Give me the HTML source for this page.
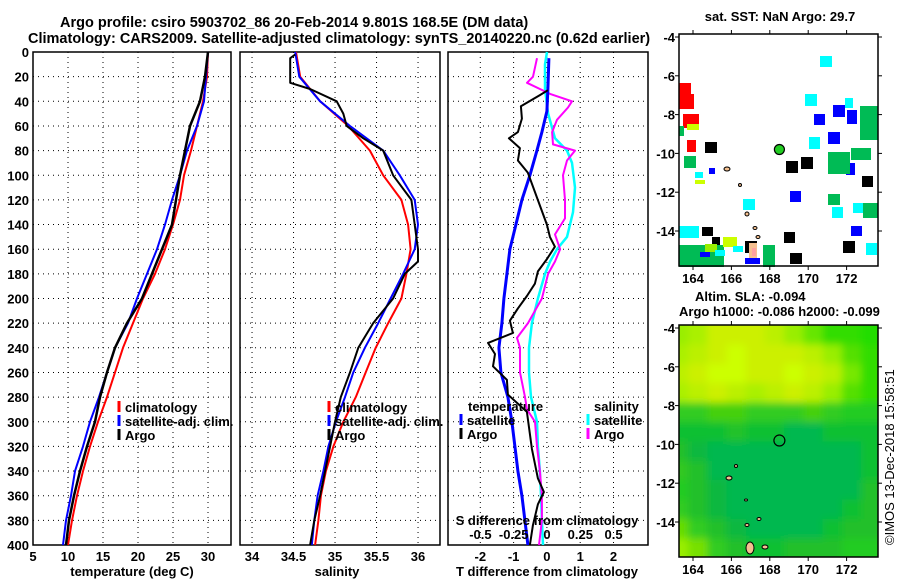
<!DOCTYPE html>
<html><head><meta charset="utf-8"><style>
html,body{margin:0;padding:0;background:#fff;}
svg{display:block;font-family:"Liberation Sans",Arial,sans-serif;font-weight:bold;}
</style></head><body>
<svg id="c" width="900" height="580" viewBox="0 0 900 580" xmlns="http://www.w3.org/2000/svg">
<text x="60" y="27" font-size="14.5">Argo profile: csiro 5903702_86 20-Feb-2014 9.801S 168.5E (DM data)</text>
<text x="28" y="43" font-size="14.5">Climatology: CARS2009. Satellite-adjusted climatology: synTS_20140220.nc (0.62d earlier)</text>
<g id="plots"></g>
<text x="780" y="21" font-size="13" text-anchor="middle">sat. SST: NaN Argo: 29.7</text>
<text x="695" y="301" font-size="13">Altim. SLA: -0.094</text>
<text x="679" y="316" font-size="13">Argo h1000: -0.086 h2000: -0.099</text>
<text transform="translate(894,545) rotate(-90)" font-size="13" font-weight="normal">©IMOS 13-Dec-2018 15:58:51</text>
</svg>
<script>
// depth levels
const depthStd = [0,20,40,60,80,100,120,140,160,180,200,220,240,260,280,300,320,340,360,380,400];
// temperature panel
const tempClim = [30.0,29.86,29.29,28.43,27.57,26.57,26.0,25.0,23.86,22.43,20.71,19.29,17.86,16.71,15.57,14.29,13.14,12.14,11.29,10.57,10.0];
const tempSat  = [30.0,29.71,29.43,28.43,27.0,26.0,24.86,23.86,22.71,21.29,19.86,18.57,16.71,15.57,14.43,13.14,12.14,11.0,10.43,9.71,9.29];
const tempArgo = [30.0,29.57,28.86,27.43,26.71,26.0,25.43,24.86,23.43,22.0,20.57,18.43,16.71,15.57,14.57,13.86,12.71,11.71,10.86,10.14,9.71];
// salinity panel
const salClim = [34.53,34.58,34.82,35.16,35.42,35.58,35.80,35.88,35.91,35.86,35.80,35.64,35.49,35.37,35.25,35.10,34.98,34.89,34.83,34.80,34.76];
const salSat  = [34.52,34.57,34.82,35.18,35.58,35.78,35.96,36.0,35.96,35.82,35.67,35.52,35.36,35.22,35.12,35.01,34.92,34.86,34.79,34.75,34.72];
const salArgoDepth = [2,5,25,30,40,50,60,70,80,100,120,140,160,170,180,200,220,230,240,260,280,300,320,340,360,380,400];
const salArgo = [34.52,34.46,34.46,34.70,35.02,35.10,35.14,35.34,35.58,35.70,35.92,35.96,36.0,36.0,35.84,35.70,35.46,35.37,35.28,35.18,35.07,35.0,34.94,34.88,34.82,34.75,34.70];
// difference panel
const dTArgoDepth = [31,35,44,54,65,70,78,88,98,118,140,150,158,168,178,188,198,208,218,228,236,245,255,266,278,292,298,322,346,357,367,384,400];
const dTArgo = [0.03,-0.21,-0.78,-0.75,-0.87,-1.14,-0.81,-0.87,-0.57,-0.30,0,0.09,0.24,0,-0.27,-0.36,-0.6,-0.87,-1.11,-1.02,-1.77,-1.56,-1.62,-1.2,-1.17,-0.6,-0.57,-0.45,-0.27,-0.09,-0.27,-0.42,-0.51];
const dTSatDepth = [5,30,48,65,80,100,120,140,160,180,200,220,240,260,280,300,320,340,360,380,400];
const dTSat = [0.06,0.03,0,-0.15,-0.3,-0.51,-0.75,-0.93,-1.11,-1.2,-1.29,-1.35,-1.44,-1.38,-1.17,-1.05,-0.96,-0.87,-0.75,-0.66,-0.57];
const dSArgoDepth = [5,20,25,34,40,45,55,65,75,80,88,100,120,135,148,160,170,180,200,220,232,240,260,280,290,300,320,340,360,380,400];
const dSArgo = [-0.075,-0.105,-0.15,0.023,0.188,0.158,0.075,0.038,0.045,0.21,0.15,0.12,0.135,0.135,0.06,0.098,0.06,0.008,-0.038,-0.143,-0.225,-0.203,-0.203,-0.165,-0.15,-0.09,-0.075,-0.053,-0.038,-0.038,-0.06];
const dSSatDepth = [0,10,30,50,70,80,90,110,130,150,160,170,180,200,220,240,260,280,300,320,340,360,380,400];
const dSSat = [0,-0.015,-0.015,0.008,0.06,0.15,0.188,0.21,0.195,0.15,0.075,0.023,-0.015,-0.068,-0.113,-0.135,-0.135,-0.12,-0.075,-0.068,-0.053,-0.045,-0.038,-0.03];
const depthTicks = [0,20,40,60,80,100,120,140,160,180,200,220,240,260,280,300,320,340,360,380,400];
const tempTicks = [5,10,15,20,25,30];
const salTicks = [34,34.5,35,35.5,36];
const salTickLabels = ["34","34.5","35","35.5","36"];
const dTTicks = [-2,-1,0,1,2];
const dSTicks = [-0.5,-0.25,0,0.25,0.5];
const dSTickLabels = ["-0.5","-0.25","0","0.25","0.5"];
// maps
const lonTicks = [164,166,168,170,172];
const latTicks = [-4,-6,-8,-10,-12,-14];
const argoLon = 168.5, argoLat = -9.8;

const NS='http://www.w3.org/2000/svg';
const root=document.getElementById('plots');
function mk(tag,attrs,parent){const e=document.createElementNS(NS,tag);for(const k in attrs)e.setAttribute(k,attrs[k]);(parent||root).appendChild(e);return e;}
const Y0=52,Y1=545;
const yD=d=>Y0+d*(Y1-Y0)/400;

function panel(name,x0,x1,vmin,vmax,gridVals){
  const g=mk('g',{});
  
  
  const xs=v=>x0+(v-vmin)*(x1-x0)/(vmax-vmin);
  gridVals.forEach(v=>{const l=mk('line',{x1:xs(v),x2:xs(v),y1:Y0,y2:Y1,stroke:'#000','stroke-width':1,'stroke-dasharray':'1,4'},g);
    
    });
  depthTicks.slice(1,-1).forEach(d=>{const l=mk('line',{x1:x0,x2:x1,y1:yD(d),y2:yD(d),stroke:'#000','stroke-width':1,'stroke-dasharray':'1,4'},g);
    
    });
  const r=mk('rect',{x:x0,y:Y0,width:x1-x0,height:Y1-Y0,fill:'none',stroke:'#000','stroke-width':1.5},g);
  
  
  return {g,xs};
}
function line(p,depths,vals,color,w,name,xsOverride){
  const xs=xsOverride||p.xs;
  const d=vals.map((v,i)=>(i?'L':'M')+xs(v).toFixed(1)+','+yD(depths[i]).toFixed(1)).join('');
  const e=mk('path',{d,fill:'none',stroke:color,'stroke-width':w,'stroke-linejoin':'round'},p.g);
  
  
}
function txt(s,x,y,opts,parent){const e=mk('text',Object.assign({x,y,'font-size':13},opts||{}),parent);e.textContent=s;return e;}
function legend(p,x,y,items){
  items.forEach((it,i)=>{
    const m=mk('line',{x1:x,x2:x,y1:y+i*14-11,y2:y+i*14,stroke:it[1],'stroke-width':3},p.g);
    
    
    const t=txt(it[0],x+6,y+i*14,{},p.g);
    
    
  });
}
depthTicks.forEach(d=>{const t=txt(String(d),29,yD(d)+5,{'text-anchor':'end'});
  
  });

// Panel 1
const p1=panel('temperature-panel',33,231,5,5+198/7,[10,15,20,25,30]);
line(p1,depthStd,tempClim,'#f00',2,'temp-climatology-line');
line(p1,depthStd,tempSat,'#00f',2,'temp-satellite-line');
line(p1,depthStd,tempArgo,'#000',2.5,'temp-argo-line');
tempTicks.forEach(v=>{const t=txt(String(v),p1.xs(v),561,{'text-anchor':'middle'});
  
  });
{const t=txt('temperature (deg C)',132,576,{'text-anchor':'middle'});}
legend(p1,119,412,[['climatology','#f00'],['satellite-adj. clim.','#00f'],['Argo','#000']]);

// Panel 2
const p2=panel('salinity-panel',240,440,33.855,33.855+200/83,salTicks);
line(p2,depthStd,salClim,'#f00',2,'sal-climatology-line');
line(p2,depthStd,salSat,'#00f',2,'sal-satellite-line');
line(p2,salArgoDepth,salArgo,'#000',2,'sal-argo-line');
salTicks.forEach((v,i)=>{const t=txt(salTickLabels[i],p2.xs(v),561,{'text-anchor':'middle'});
  
  });
{const t=txt('salinity',337,576,{'text-anchor':'middle'});}
legend(p2,329,412,[['climatology','#f00'],['satellite-adj. clim.','#00f'],['Argo','#000']]);

// Panel 3
const p3=panel('difference-panel',448,648,-2.97,-2.97+200/33.3,dTTicks);
const sxs=v=>547+v*133.2;
line(p3,dSSatDepth,dSSat,'#0ff',2.5,'sal-diff-satellite-line',sxs);
line(p3,dSArgoDepth,dSArgo,'#f0f',2,'sal-diff-argo-line',sxs);
line(p3,dTSatDepth,dTSat,'#00f',3,'temp-diff-satellite-line');
line(p3,dTArgoDepth,dTArgo,'#000',2,'temp-diff-argo-line');
dTTicks.forEach(v=>{const t=txt(String(v),p3.xs(v),561,{'text-anchor':'middle'});
  
  });
dSTicks.forEach((v,i)=>{const t=txt(dSTickLabels[i],sxs(v),539,{'text-anchor':'middle'},p3.g);
  
  });
{const t=txt('S difference from climatology',547,525,{'text-anchor':'middle'},p3.g);}
{const t=txt('T difference from climatology',547,576,{'text-anchor':'middle'});}
{const t=txt('temperature',468,411,{},p3.g);}
{const t=txt('salinity',594,411,{},p3.g);}
legend(p3,461,425,[['satellite','#00f'],['Argo','#000']]);
legend(p3,588,425,[['satellite','#0ff'],['Argo','#f0f']]);

// Maps
function map(name,top){
  const L=679,R=878,B=top+232;
  const g=mk('g',{});
  
  
  const lx=lon=>693+(lon-164)*19.2;
  const ly=lat=>top+3+(-4-lat)*19.4;
  return {g,L,R,T:top,B,lx,ly};
}
function mapFrame(m){
  const r=mk('rect',{x:m.L,y:m.T,width:m.R-m.L,height:m.B-m.T,fill:'none',stroke:'#000','stroke-width':1.5},m.g);
  
  
  lonTicks.forEach(v=>{const x=m.lx(v);
    mk('line',{x1:x,x2:x,y1:m.B,y2:m.B+4,stroke:'#000'},m.g);mk('line',{x1:x,x2:x,y1:m.T,y2:m.T-4,stroke:'#000'},m.g);
    const t=txt(String(v),x,m.B+17,{'text-anchor':'middle'},m.g);
    
    });
  latTicks.forEach(v=>{const y=m.ly(v);
    mk('line',{x1:m.L-4,x2:m.L,y1:y,y2:y,stroke:'#000'},m.g);mk('line',{x1:m.R,x2:m.R+4,y1:y,y2:y,stroke:'#000'},m.g);
    const t=txt(String(v),m.L-4,y+5,{'text-anchor':'end'},m.g);
    
    });
}
// SST map
const m1=map('sst-map',34);
mk('rect',{x:m1.L,y:m1.T,width:m1.R-m1.L,height:m1.B-m1.T,fill:'#fff'},m1.g);
const sstCells=[
['#f00',679,83,12,12],['#f00',679,94,15,15],['#f00',683,114,16,14],['#f00',687,140,9,12],
['#0ff',820,56,12,11],['#0ff',805,94,12,12],['#0ff',809,137,11,12],['#0ff',743,199,12,11],['#0ff',832,207,11,11],['#0ff',853,203,11,10],['#0ff',679,226,20,12],['#0ff',866,243,11,12],['#0ff',845,98,8,10],
['#00f',833,105,12,12],['#00f',814,114,11,11],['#00f',828,132,12,12],['#00f',790,191,11,11],['#00f',846,163,9,12],['#00f',851,226,11,10],['#00f',847,110,10,14],
['#00bb55',684,156,12,12],['#00bb55',828,152,22,22],['#00bb55',828,194,12,11],['#00bb55',860,106,18,34],['#00bb55',863,203,15,15],['#00bb55',763,245,12,22],['#00bb55',679,245,45,22],['#00bb55',851,148,20,12],
['#000',705,142,12,11],['#000',786,161,12,12],['#000',801,157,12,12],['#000',784,232,11,11],['#000',843,241,12,12],['#000',790,253,12,11],['#000',745,241,12,12],['#000',702,227,11,9],['#000',862,176,11,11],['#000',712,237,8,8],
['#ccff00',723,237,14,10],['#99ee00',705,244,12,8],['#00f',700,252,10,5],['#0ff',715,250,10,6],['#ccff00',687,124,12,6],['#00bb55',679,126,5,10],['#00f',709,168,6,6],['#0ff',695,172,8,6],['#ccff00',695,180,10,4],
['#f5c090',749,243,8,20],['#ffa0a0',752,248,4,8],['#0ff',733,246,10,6],['#00f',745,258,15,6]
];
sstCells.forEach(c=>{const r=mk('rect',{x:c[1],y:c[2],width:c[3],height:c[4],fill:c[0]},m1.g);
  
  });
[[727,169,3,2],[740,185,1.5,1.5],[747,214,2,2],[755,228,2,1.5],[758,237,2,1.5]].forEach(c=>{const e=mk('ellipse',{cx:c[0],cy:c[1],rx:c[2],ry:c[3],fill:'#f5c090',stroke:'#000','stroke-width':1},m1.g);
  
  });
{const c=mk('circle',{cx:m1.lx(argoLon),cy:m1.ly(argoLat),r:5,fill:'#22cc22',stroke:'#000','stroke-width':1.2},m1.g);}
mapFrame(m1);

// SLA map
const m2=map('sla-map',325);
const slaColors=[
['#99ee00','#aaf000','#ccf000','#ccf000','#ccf000','#bbf000','#99ee00','#66e600','#33dd00','#33dd00','#22dd00'],
['#aaf000','#bbf000','#ccf000','#ccff00','#ccf000','#ccf000','#ccf000','#bbf000','#99ee00','#55e000','#33dd00'],
['#bbf000','#ccf000','#ccff00','#ccff00','#ccf000','#ccf000','#ccff00','#ccf000','#bbf000','#77e800','#33dd00'],
['#aaf000','#bbf000','#ccf000','#bbf000','#aaf000','#bbf000','#ccf000','#bbf000','#99ee00','#55e000','#33dd00'],
['#33cc22','#33cc22','#44d011','#44d011','#33cc22','#33cc22','#33cc22','#44d011','#33cc22','#22cc22','#22cc22'],
['#11c033','#11c033','#11c033','#22c22a','#11c033','#11c033','#00b850','#00b850','#11c033','#11c033','#11c033'],
['#22c02a','#11b840','#00b850','#00b850','#00b850','#00b850','#00b850','#00b850','#00b850','#00b850','#11c033'],
['#33c822','#22c02a','#00b850','#00b850','#00b850','#00b850','#00b850','#00b850','#00b850','#00b850','#11c033'],
['#22cc22','#22c02a','#11b840','#00b850','#00b850','#00b850','#00b850','#00b850','#00b850','#00b850','#22c02a'],
['#33cc22','#22c02a','#11b840','#00b850','#00b850','#00b850','#00b850','#00b850','#00b850','#11c033','#22c02a'],
['#66dd00','#33cc22','#22c02a','#11b840','#00b850','#00b850','#00b850','#00b850','#11c033','#22c02a','#22c02a'],
['#99ee00','#77e000','#33cc22','#22c02a','#11c033','#11c033','#22c02a','#22c02a','#22c02a','#22cc22','#22cc22']
];
mk('defs',{}).innerHTML='<clipPath id="mc"><rect x="679" y="325" width="199" height="232"/></clipPath><filter id="bl"><feGaussianBlur stdDeviation="4"/></filter>';
const sg=mk('g',{'clip-path':'url(#mc)'},m2.g);
const fg=mk('g',{filter:'url(#bl)'},sg);
mk('rect',{x:660,y:310,width:240,height:270,fill:'#11c033'},fg);
slaColors.forEach((row,i)=>row.forEach((col,j)=>{
  const r=mk('rect',{x:m2.L-10+j*19.2+(j?0:-10),y:m2.T+i*19.4-(i?0:15),width:19.6+(j?0:10)+(j==10?20:0),height:19.8+(i?0:15)+(i==11?20:0),fill:col},fg);
  
  
}));
[[729,478,3,2],[736,466,1.5,1.5],[746,500,1.5,1],[747,525,2,1.5],[750,548,4,6],[765,547,3,2],[759,519,2,1.5]].forEach(c=>{const e=mk('ellipse',{cx:c[0],cy:c[1],rx:c[2],ry:c[3],fill:'#f5c090',stroke:'#000','stroke-width':1},sg);
  
  });
{const c=mk('circle',{cx:m2.lx(argoLon),cy:m2.ly(argoLat),r:5.5,fill:'none',stroke:'#000','stroke-width':1.2},m2.g);}
mapFrame(m2);
</script>
</body></html>
